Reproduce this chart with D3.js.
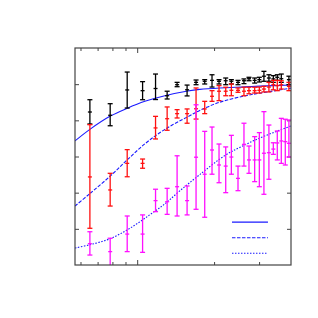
<!DOCTYPE html>
<html>
<head>
<meta charset="utf-8">
<script src="https://cdn.jsdelivr.net/npm/d3@7"></script>
<style>
  body { margin: 0; background: #fff; }
  svg { display: block; }
</style>
</head>
<body>
<script>
// shared x positions of the measurements
const xs = [0.653, 0.784, 0.914, 1.050, 1.180, 1.310, 1.433, 1.568, 1.700, 1.838, 1.963, 2.091, 2.221,
  2.337, 2.481, 2.618, 2.739, 2.883, 3.007, 3.134, 3.278, 3.411, 3.535, 3.665, 3.799, 3.925];

// black series
const blackVal = [0.846, 0.828, 0.968, 0.964, 0.976, 0.936, 0.997, 0.969, 1.010, 1.016, 1.021, 1.016, 1.019,
  1.016, 1.010, 1.019, 1.030, 1.021, 1.025, 1.044, 1.034, 1.029, 1.038, 1.030, null, 1.025];
const blackLo = [0.780, 0.770, 0.868, 0.914, 0.915, 0.918, 0.986, 0.935, 0.997, 1.001, 0.984, 1.001, 0.997,
  1.001, 0.997, 1.003, 1.019, 1.006, 1.012, 1.016, 1.016, 1.010, 1.021, 1.010, null, 0.997];
const blackHi = [0.914, 0.892, 1.067, 1.014, 1.056, 0.961, 1.010, 0.995, 1.023, 1.025, 1.052, 1.025, 1.034,
  1.025, 1.021, 1.029, 1.038, 1.034, 1.038, 1.071, 1.052, 1.047, 1.052, 1.056, null, 1.044];

// red series
const redVal = [0.487, 0.415, 0.562, 0.562, 0.758, 0.809, 0.837, 0.837, 0.864, 0.863, 0.933, 0.961, 0.961,
  0.966, 0.966, 0.961, 0.964, 0.964, 0.966, 0.973, 0.984, 0.997, 0.992, 0.997, null, 0.988];
const redLo = [0.203, 0.326, 0.488, 0.535, 0.697, 0.745, 0.813, 0.784, 0.807, 0.837, 0.905, 0.909, 0.936,
  0.936, 0.955, 0.936, 0.947, 0.951, 0.951, 0.957, 0.957, 0.969, 0.964, 0.973, null, 0.964];
const redHi = [0.776, 0.507, 0.638, 0.586, 0.822, 0.874, 0.859, 0.863, 0.979, 0.905, 0.964, 0.992, 0.983,
  1.001, 0.979, 0.983, 0.983, 0.983, 0.984, 0.988, 1.010, 1.021, 1.021, 1.019, null, 1.010];

// magenta series
const magVal = [0.118, 0.074, 0.171, 0.171, 0.356, 0.350, 0.433, 0.356, 0.596, 0.502, 0.636, 0.553, 0.547,
  0.597, 0.479, 0.667, 0.581, 0.581, 0.581, 0.618, 0.621, 0.641, 0.675, 0.686, 0.682, 0.673];
const magLo = [0.055, -0.02, 0.074, 0.070, 0.295, 0.280, 0.271, 0.277, 0.308, 0.264, 0.502, 0.455, 0.400,
  0.502, 0.411, 0.547, 0.507, 0.461, 0.433, 0.391, 0.474, 0.612, 0.581, 0.562, 0.553, 0.597];
const magHi = [0.184, 0.148, 0.271, 0.277, 0.419, 0.424, 0.604, 0.437, 0.886, 0.739, 0.763, 0.669, 0.653,
  0.717, 0.547, 0.784, 0.658, 0.710, 0.732, 0.848, 0.774, 0.676, 0.741, 0.811, 0.806, 0.802];

// model curves
const curveX = [0.571, 0.653, 0.782, 0.912, 1.072, 1.283, 1.578, 1.758, 2.104, 2.634, 3.015, 4.0];
const solidY = [0.686, 0.750, 0.822, 0.866, 0.905, 0.936, 0.962, 0.971, 0.979, 0.985, 0.989, 0.995];
const dashedY = [0.326, 0.395, 0.490, 0.580, 0.670, 0.750, 0.820, 0.855, 0.900, 0.935, 0.950, 0.978];
const dottedX = [0.571, 0.653, 0.782, 0.936, 1.121, 1.283, 1.468, 1.758, 2.201, 2.519, 3.015, 4.0];
const dottedY = [0.094, 0.112, 0.145, 0.203, 0.278, 0.338, 0.410, 0.500, 0.605, 0.650, 0.702, 0.769];

// axis ticks (no labels in the original)
const xMinorTicks = [0.6, 0.7, 0.8, 0.9, 2, 3];
const xMajorTicks = [1];
const yTicks = [0.2, 0.4, 0.6, 0.8, 1.0];

const W = 318, H = 318;
const plot = { left: 75, right: 291, top: 48, bottom: 265 };

const svg = d3.select('body').append('svg')
  .attr('width', W)
  .attr('height', H);

svg.append('rect').attr('width', W).attr('height', H).attr('fill', '#fff');

const x = d3.scaleLog().domain([0.571, 4]).range([plot.left, plot.right]);
const y = d3.scaleLinear().domain([0, 1.2]).range([plot.bottom, plot.top]);

svg.append('clipPath').attr('id', 'clip')
  .append('rect')
  .attr('x', plot.left).attr('y', plot.top)
  .attr('width', plot.right - plot.left).attr('height', plot.bottom - plot.top);

//ticks pointing inward on all four sides
const tickStyle = (g) => {
  g.select('.domain').remove();
  g.selectAll('line').attr('stroke', '#444');
};
const addAxis = (axis, tx, ty) => svg.append('g')
  .attr('transform', `translate(${tx},${ty})`)
  .call(axis.tickFormat(''))
  .call(tickStyle);

addAxis(d3.axisBottom(x).tickValues(xMinorTicks).tickSize(-3), 0, plot.bottom);
addAxis(d3.axisBottom(x).tickValues(xMajorTicks).tickSize(-5), 0, plot.bottom);
addAxis(d3.axisTop(x).tickValues(xMinorTicks).tickSize(-3), 0, plot.top);
addAxis(d3.axisTop(x).tickValues(xMajorTicks).tickSize(-5), 0, plot.top);
addAxis(d3.axisLeft(y).tickValues(yTicks).tickSize(-4), plot.left, 0);
addAxis(d3.axisRight(y).tickValues(yTicks).tickSize(-4), plot.right, 0);

const body = svg.append('g').attr('clip-path', 'url(#clip)');

//curves
const line = d3.line()
  .x((d) => x(d[0]))
  .y((d) => y(d[1]))
  .curve(d3.curveCatmullRom.alpha(0.5));

const curves = [
  { xv: curveX, yv: solidY, dash: null },
  { xv: curveX, yv: dashedY, dash: '3.5,1.5' },
  { xv: dottedX, yv: dottedY, dash: '1.5,1.5' },
];

curves.forEach((c) => {
  body.append('path')
    .datum(c.xv.map((v, i) => [v, c.yv[i]]))
    .attr('d', line)
    .attr('fill', 'none')
    .attr('stroke', '#1a1aff')
    .attr('stroke-width', 1.1)
    .attr('stroke-dasharray', c.dash);
});

//error bars for the three series
const series = [
  { val: blackVal, lo: blackLo, hi: blackHi, color: '#000' },
  { val: redVal, lo: redLo, hi: redHi, color: '#ff1010' },
  { val: magVal, lo: magLo, hi: magHi, color: '#ff10ff' },
];

series.forEach((s) => {
  const pts = xs.map((xv, i) => ({ x: xv, v: s.val[i], lo: s.lo[i], hi: s.hi[i] }))
    .filter((d) => d.v !== null);
  const g = body.append('g')
    .attr('stroke', s.color)
    .attr('stroke-width', 1.3)
    .attr('fill', 'none');
  const cap = 2.5;
  g.selectAll('.bar').data(pts).enter().append('line')
    .attr('x1', (d) => x(d.x)).attr('x2', (d) => x(d.x))
    .attr('y1', (d) => y(d.lo)).attr('y2', (d) => y(d.hi));
  g.selectAll('.capHi').data(pts).enter().append('line')
    .attr('x1', (d) => x(d.x) - cap).attr('x2', (d) => x(d.x) + cap)
    .attr('y1', (d) => y(d.hi)).attr('y2', (d) => y(d.hi));
  g.selectAll('.capLo').data(pts).enter().append('line')
    .attr('x1', (d) => x(d.x) - cap).attr('x2', (d) => x(d.x) + cap)
    .attr('y1', (d) => y(d.lo)).attr('y2', (d) => y(d.lo));
  g.selectAll('.mark').data(pts).enter().append('line')
    .attr('x1', (d) => x(d.x) - 2).attr('x2', (d) => x(d.x) + 2)
    .attr('y1', (d) => y(d.v)).attr('y2', (d) => y(d.v));
});

//legend samples (no text in the original)
const legendRows = [
  { y: 0.237, dash: null },
  { y: 0.151, dash: '3.5,1.5' },
  { y: 0.065, dash: '1.5,1.5' },
];
const legendX = [2.35, 3.25];
svg.append('g').selectAll('line')
  .data(legendRows)
  .enter()
  .append('line')
  .attr('x1', x(legendX[0])).attr('x2', x(legendX[1]))
  .attr('y1', (d) => y(d.y)).attr('y2', (d) => y(d.y))
  .attr('stroke', '#1a1aff')
  .attr('stroke-width', 1.1)
  .attr('stroke-dasharray', (d) => d.dash);

//frame
svg.append('rect')
  .attr('x', plot.left).attr('y', plot.top)
  .attr('width', plot.right - plot.left).attr('height', plot.bottom - plot.top)
  .attr('fill', 'none')
  .attr('stroke', '#444')
  .attr('stroke-width', 1.2);
</script>
</body>
</html>
